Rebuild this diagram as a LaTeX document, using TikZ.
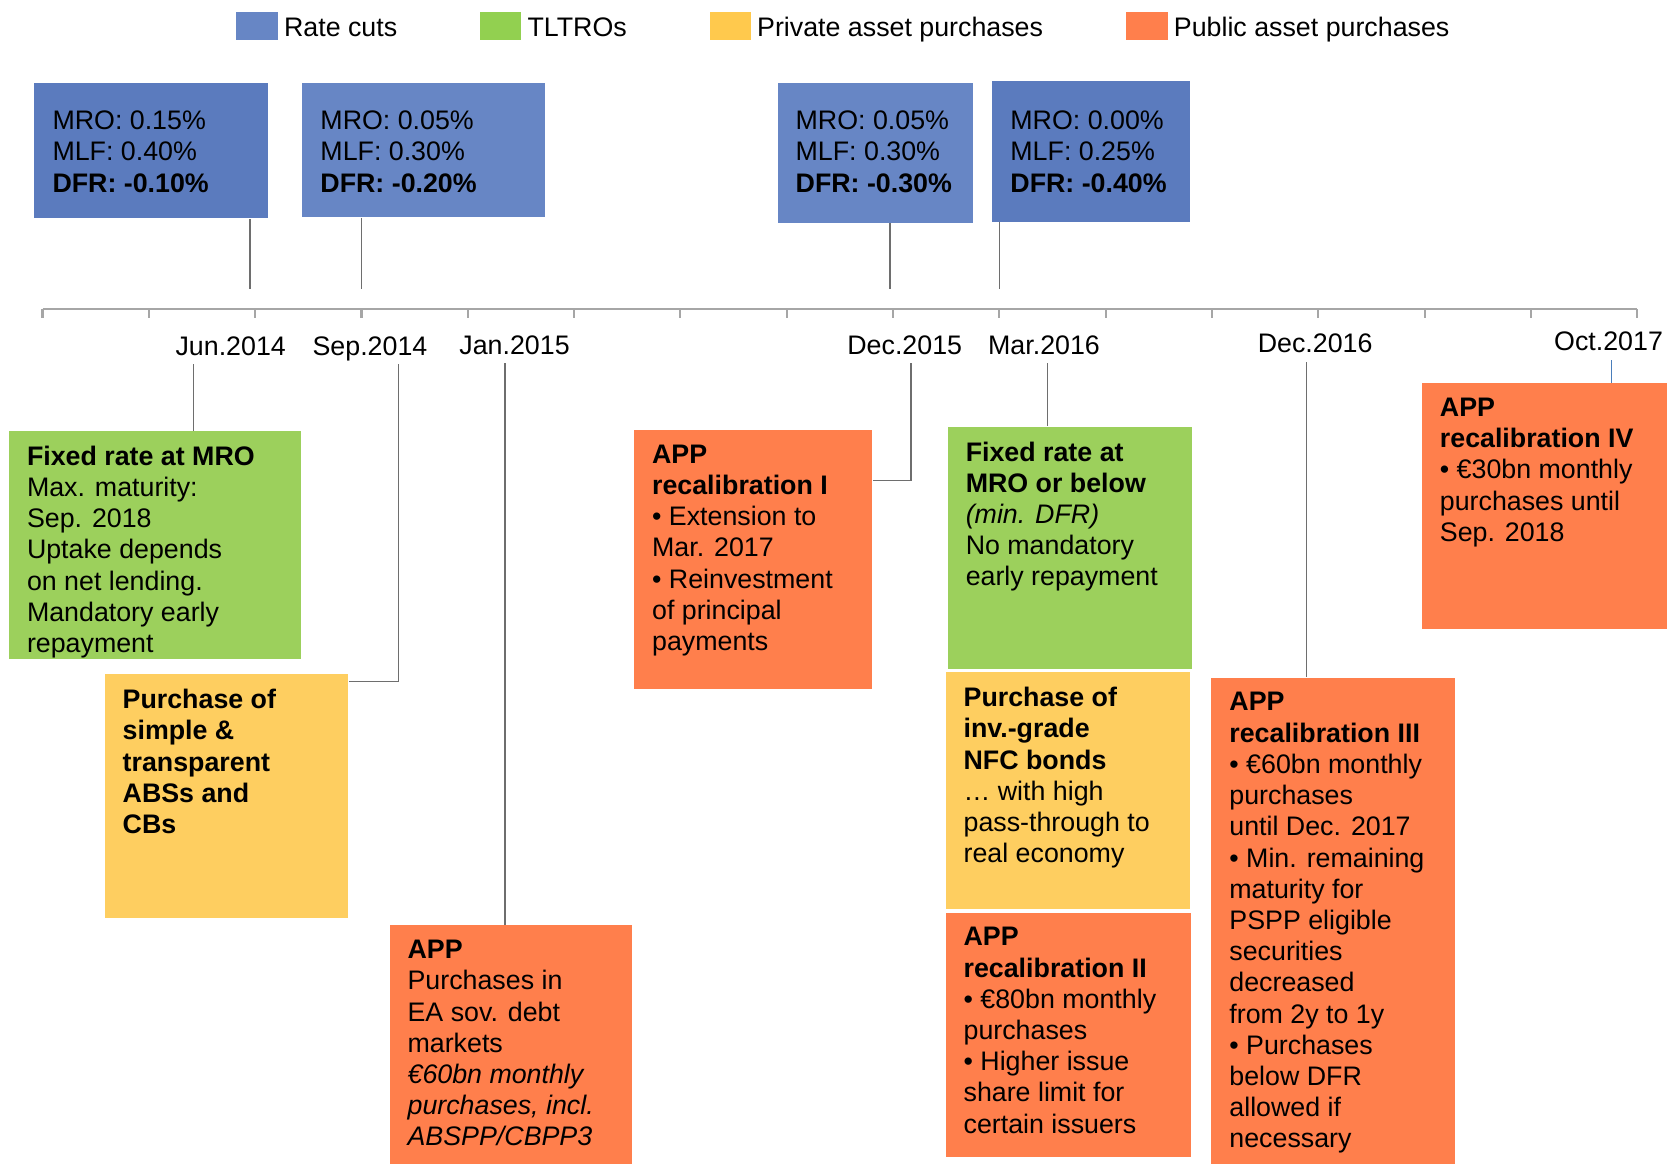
\documentclass[tikz,border=0pt]{standalone}
\usepackage{fontspec}
\setmainfont{Liberation Sans}
\usetikzlibrary{positioning}

\definecolor{ratedark}{HTML}{5B7BBE}
\definecolor{ratelight}{HTML}{6786C5}
\definecolor{tltro}{HTML}{9CD05C}
\definecolor{private}{HTML}{FECE60}
\definecolor{public}{HTML}{FF7F4C}
\definecolor{keygreen}{HTML}{92D050}
\definecolor{keyyellow}{HTML}{FFC94D}
\definecolor{linkgray}{HTML}{6E6E6E}
\definecolor{axisgray}{HTML}{A6A6A6}
\definecolor{octblue}{HTML}{4A7EBB}

\newcommand\boxfont{\fontsize{12.6pt}{14.68pt}\selectfont}
\newcommand\boxtxt[3]{\parbox[t][#2][t]{#1}{\raggedright\leftskip=8.5pt\relax #3}}

\tikzset{
  panel/.style={anchor=north west, inner xsep=0pt, inner ysep=7pt, font=\boxfont},
  ratebox/.style={panel, inner ysep=13pt},
  link/.style={draw=linkgray, line width=0.65pt},
  axisline/.style={draw=axisgray, line width=1pt},
  datelbl/.style={anchor=base, font=\boxfont, inner ysep=1.5pt, text height=9pt, text depth=2.7pt},
  keybox/.style={anchor=north west, minimum width=19.5pt, minimum height=13pt, inner sep=0pt},
  keytxt/.style={font=\boxfont, inner sep=0pt, text height=9pt, text depth=2.7pt, yshift=-1.8pt},
}

\begin{document}
\begin{tikzpicture}[x=0.5pt, y=-0.5pt]
	\useasboundingbox (0,0) rectangle (1568,1095);
	% legend
	\node[keybox, fill=ratelight] (kr) at (222,11) {};
	\node[keytxt, right=2.5pt of kr] {Rate cuts};
	\node[keybox, fill=keygreen] (kt) at (451,11) {};
	\node[keytxt, right=2.5pt of kt] {TLTROs};
	\node[keybox, fill=keyyellow] (kp) at (667,11) {};
	\node[keytxt, right=2.5pt of kp] {Private asset purchases};
	\node[keybox, fill=public] (kg) at (1059,11) {};
	\node[keytxt, right=2.5pt of kg] {Public asset purchases};

	% rate cuts
	\node[ratebox, fill=ratedark] (r1) at (32,78) {\boxtxt{110pt}{37.5pt}{MRO: 0.15\%\\MLF: 0.40\%\\\textbf{DFR: -0.10\%}}};
	\node[ratebox, fill=ratelight] (r2) at (284,78) {\boxtxt{114pt}{37pt}{MRO: 0.05\%\\MLF: 0.30\%\\\textbf{DFR: -0.20\%}}};
	\node[ratebox, fill=ratelight] (r3) at (731,78) {\boxtxt{92pt}{39.5pt}{MRO: 0.05\%\\MLF: 0.30\%\\\textbf{DFR: -0.30\%}}};
	\node[ratebox, fill=ratedark, inner ysep=14pt] (r4) at (933,76) {\boxtxt{93pt}{38pt}{MRO: 0.00\%\\MLF: 0.25\%\\\textbf{DFR: -0.40\%}}};
	\coordinate (stem) at (0,272);
	\foreach \b/\x in {r1/235, r2/340, r3/837, r4/940}
		\draw[link] (\b.south -| \x,0) -- (stem -| \x,0);

	% time axis
	\coordinate (a0) at (40,291);
	\coordinate (a15) at (1540,291);
	\draw[axisline] (a0) -- (a15);
	\foreach \i in {0,...,15}
		\draw[axisline] (40+100*\i,291) -- ++(0,8);
	\node[datelbl] (jun) at (217,334) {Jun.2014};
	\node[datelbl] (sep) at (348,334) {Sep.2014};
	\node[datelbl] (jan) at (484,333) {Jan.2015};
	\node[datelbl] (dec15) at (851,333) {Dec.2015};
	\node[datelbl] (mar) at (982,333) {Mar.2016};
	\node[datelbl] (dec16) at (1237,332) {Dec.2016};
	\node[datelbl] (oct) at (1513,330) {Oct.2017};

	% measures
	\node[panel, fill=tltro] (g1) at (8,405) {\boxtxt{137.5pt}{93pt}{\textbf{Fixed rate at MRO}\\Max. maturity:\\Sep. 2018\\Uptake depends\\on net lending.\\Mandatory early\\repayment}};
	\node[panel, fill=private] (y1) at (98,634) {\boxtxt{114.5pt}{100.5pt}{{\bfseries Purchase of\\simple \&\\transparent\\ABSs and\\CBs}}};
	\node[panel, fill=public] (o1) at (366,870) {\boxtxt{114pt}{98pt}{\textbf{APP}\\Purchases in\\EA sov. debt\\markets\\{\itshape €60bn monthly\\purchases, incl.\\ABSPP/CBPP3}}};
	\node[panel, fill=public] (o2) at (596,404) {\boxtxt{112pt}{108pt}{{\bfseries APP\\recalibration I}\\• Extension to\\Mar. 2017\\• Reinvestment\\of principal\\payments}};
	\node[panel, fill=tltro] (g2) at (891,401) {\boxtxt{115pt}{100pt}{{\bfseries Fixed rate at\\MRO or below}\\{\itshape (min. DFR)}\\No mandatory\\early repayment}};
	\node[panel, fill=private] (y2) at (889,632) {\boxtxt{115pt}{97.5pt}{{\bfseries Purchase of\\inv.-grade\\NFC bonds}\\… with high\\pass-through to\\real economy}};
	\node[panel, fill=public] (o3) at (889,858) {\boxtxt{115.5pt}{101pt}{{\bfseries APP\\recalibration II}\\• €80bn monthly\\purchases\\• Higher issue\\share limit for\\certain issuers}};
	\node[panel, fill=public] (o4) at (1139,637) {\boxtxt{114.5pt}{214.5pt}{{\bfseries APP\\recalibration III}\\• €60bn monthly\\purchases\\until Dec. 2017\\• Min. remaining\\maturity for\\PSPP eligible\\securities\\decreased\\from 2y to 1y\\• Purchases\\below DFR\\allowed if\\necessary}};
	\node[panel, fill=public] (o5) at (1337,360) {\boxtxt{115.5pt}{101.5pt}{{\bfseries APP\\recalibration IV}\\• €30bn monthly\\purchases until\\Sep. 2018}};

	% connectors to the axis labels
	\draw[link] (jun.south -| 182,0) -- (g1.north -| 182,0);
	\draw[link] (sep.south -| 375,0) |- ([yshift=-3.5pt]y1.north east);
	\draw[link] (jan.south -| 475,0) -- (o1.north -| 475,0);
	\draw[link] (dec15.south -| 857,0) |- ([yshift=-24pt]o2.north east);
	\draw[link] (mar.south -| 985,0) -- (g2.north -| 985,0);
	\draw[link] (dec16.south -| 1229,0) -- (o4.north -| 1229,0);
	\draw[link, draw=octblue] (oct.south -| 1516,0) -- (o5.north -| 1516,0);
\end{tikzpicture}
\end{document}
